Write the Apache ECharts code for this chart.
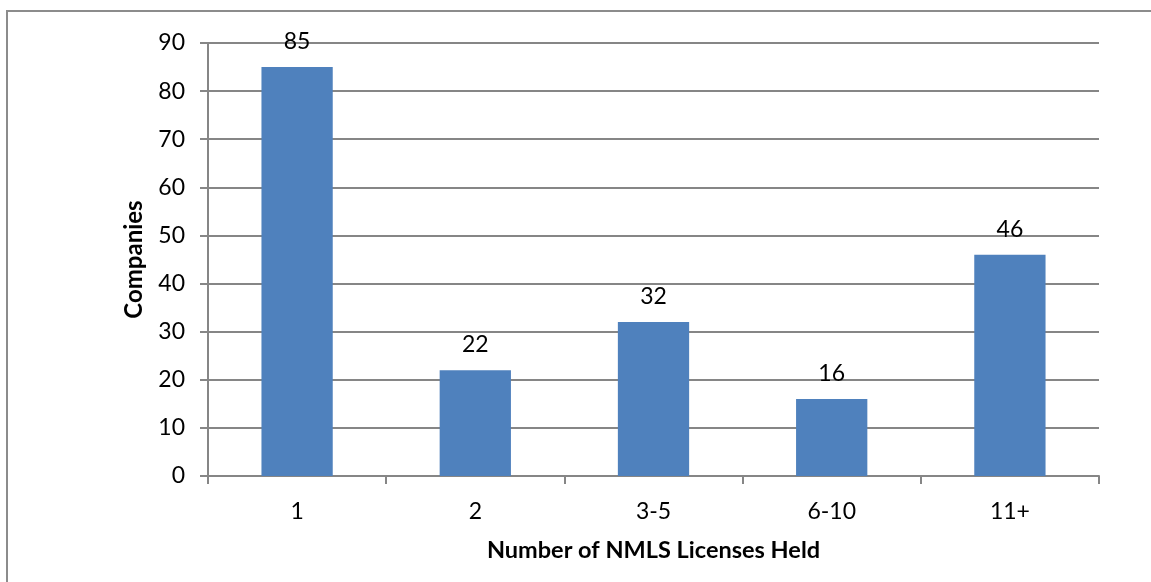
<!DOCTYPE html>
<html>
<head>
<meta charset="utf-8">
<script src="https://cdn.jsdelivr.net/npm/echarts@6/dist/echarts.min.js"></script>
<style>
html,body{margin:0;padding:0;background:#fff;}
#chart{width:1151px;height:582px;}
</style>
</head>
<body>
<div id="chart"></div>
<script>
const categories = ['1', '2', '3-5', '6-10', '11+'];
const companies = [85, 22, 32, 16, 46];
const xAxisTitle = 'Number of NMLS Licenses Held';
const yAxisTitle = 'Companies';

const FONT = 'Lato, "Liberation Sans", sans-serif';
const chart = echarts.init(document.getElementById('chart'), null, {renderer: 'canvas'});
chart.setOption({
  animation: false,
  backgroundColor: '#ffffff',
  graphic: [{
    type: 'rect',
    shape: {x: 7, y: 11, width: 1200, height: 700},
    style: {fill: 'none', stroke: '#8c8c8c', lineWidth: 2},
    silent: true
  }],
  grid: {left: 208, right: 52, top: 43, bottom: 106},
  xAxis: {
    type: 'category',
    data: categories,
    name: xAxisTitle,
    nameLocation: 'middle',
    nameGap: 62,
    nameTextStyle: {fontFamily: FONT, fontSize: 23.5, fontWeight: 'bold', color: '#000'},
    axisLine: {show: true, lineStyle: {color: '#868686', width: 2}},
    axisTick: {show: true, alignWithLabel: false, length: 8, lineStyle: {color: '#868686', width: 2}},
    axisLabel: {fontFamily: FONT, fontSize: 23, color: '#000', margin: 24}
  },
  yAxis: {
    type: 'value',
    min: 0, max: 90, interval: 10,
    name: yAxisTitle,
    nameLocation: 'middle',
    nameGap: 62,
    nameRotate: 90,
    nameTextStyle: {fontFamily: FONT, fontSize: 24, fontWeight: 'bold', color: '#000'},
    axisLine: {show: true, lineStyle: {color: '#868686', width: 2}},
    axisTick: {show: true, length: 8, lineStyle: {color: '#868686', width: 2}},
    axisLabel: {fontFamily: FONT, fontSize: 23, color: '#000', margin: 23},
    splitLine: {show: true, lineStyle: {color: '#868686', width: 2}}
  },
  series: [{
    type: 'bar',
    data: companies,
    barWidth: '40%',
    itemStyle: {color: '#4F81BD'},
    label: {show: true, position: 'top', distance: 14, fontFamily: FONT, fontSize: 23, color: '#000'}
  }]
});
</script>
</body>
</html>
